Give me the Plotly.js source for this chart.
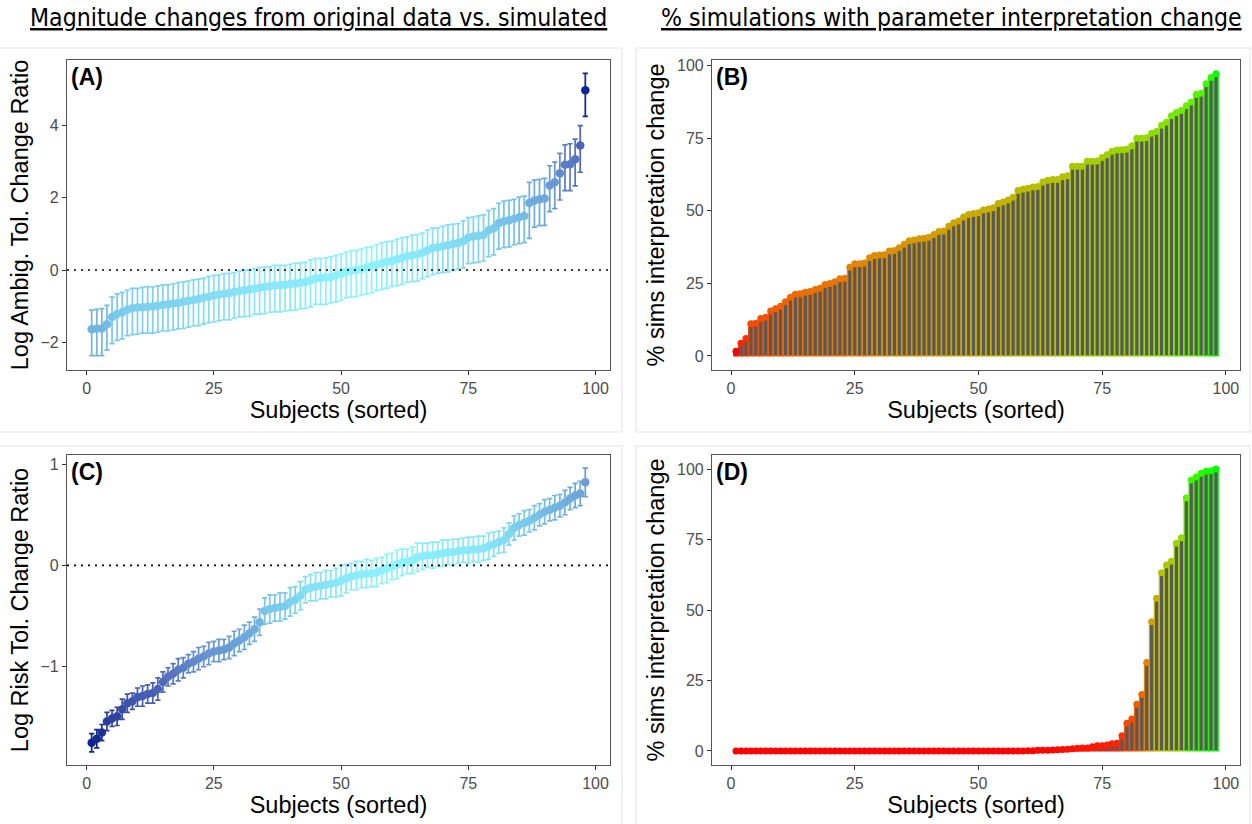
<!DOCTYPE html>
<html>
<head>
<meta charset="utf-8">
<script src="https://cdn.plot.ly/plotly-3.0.1.min.js"></script>
<style>html,body{margin:0;padding:0;background:#fff;}</style>
</head>
<body>
<div id="chart" style="width:1252px;height:824px;"></div>
<script>
// ---------------- data ----------------
const subjects = Array.from({length: 98}, (_, i) => i + 1);

const ambigRatio = [
 -1.64,-1.63,-1.62,-1.50,-1.30,-1.22,-1.17,-1.10,-1.06,-1.04,
 -1.03,-1.02,-1.01,-0.99,-0.97,-0.95,-0.93,-0.91,-0.88,-0.85,
 -0.83,-0.80,-0.77,-0.74,-0.70,-0.68,-0.66,-0.64,-0.61,-0.58,
 -0.56,-0.54,-0.51,-0.49,-0.47,-0.45,-0.43,-0.42,-0.41,-0.39,
 -0.37,-0.35,-0.33,-0.28,-0.23,-0.22,-0.21,-0.19,-0.15,-0.10,
 -0.05,-0.02,0.00,0.03,0.07,0.11,0.15,0.19,0.23,0.26,
 0.30,0.34,0.38,0.41,0.43,0.48,0.55,0.61,0.63,0.66,
 0.69,0.72,0.75,0.80,0.90,0.93,0.95,0.97,1.10,1.16,
 1.30,1.35,1.38,1.42,1.46,1.50,1.86,1.93,1.96,1.98,
 2.34,2.43,2.68,2.92,2.93,3.07,3.45,4.98
];
const ambigErrUp = [
 0.53,0.54,0.55,0.52,0.55,0.56,0.55,0.54,0.55,0.53,
 0.55,0.56,0.54,0.55,0.56,0.54,0.55,0.56,0.55,0.54,
 0.56,0.55,0.54,0.56,0.55,0.54,0.56,0.55,0.54,0.55,
 0.56,0.54,0.55,0.56,0.55,0.54,0.56,0.55,0.54,0.55,
 0.56,0.55,0.54,0.56,0.55,0.54,0.55,0.56,0.55,0.54,
 0.55,0.56,0.54,0.55,0.56,0.54,0.55,0.56,0.55,0.54,
 0.56,0.55,0.54,0.56,0.55,0.54,0.56,0.55,0.54,0.55,
 0.56,0.55,0.54,0.56,0.55,0.54,0.55,0.56,0.55,0.54,
 0.55,0.56,0.55,0.54,0.56,0.55,0.57,0.56,0.55,0.56,
 0.55,0.56,0.55,0.55,0.57,0.56,0.55,0.47
];
const ambigErrDown = [
 0.73,0.74,0.75,0.72,0.74,0.73,0.74,0.72,0.73,0.74,
 0.72,0.73,0.74,0.73,0.72,0.74,0.73,0.72,0.74,0.73,
 0.72,0.74,0.73,0.72,0.74,0.73,0.72,0.74,0.73,0.72,
 0.73,0.74,0.72,0.73,0.74,0.72,0.73,0.74,0.72,0.73,
 0.74,0.72,0.73,0.74,0.72,0.73,0.74,0.72,0.73,0.74,
 0.72,0.73,0.74,0.72,0.73,0.74,0.72,0.73,0.74,0.72,
 0.73,0.74,0.72,0.73,0.74,0.72,0.73,0.74,0.72,0.73,
 0.74,0.72,0.73,0.74,0.72,0.73,0.74,0.72,0.73,0.74,
 0.72,0.73,0.74,0.72,0.73,0.74,0.98,0.74,0.73,0.74,
 0.72,0.73,0.74,0.72,0.73,0.74,0.74,0.72
];

const riskRatio = [
 -1.75,-1.71,-1.65,-1.54,-1.51,-1.49,-1.42,-1.36,-1.34,-1.30,
 -1.29,-1.27,-1.26,-1.22,-1.15,-1.10,-1.07,-1.03,-1.01,-0.97,
 -0.95,-0.92,-0.90,-0.87,-0.85,-0.84,-0.83,-0.81,-0.77,-0.74,
 -0.71,-0.67,-0.63,-0.56,-0.45,-0.43,-0.42,-0.41,-0.40,-0.36,
 -0.34,-0.30,-0.24,-0.22,-0.21,-0.20,-0.19,-0.18,-0.17,-0.15,
 -0.13,-0.11,-0.10,-0.09,-0.08,-0.08,-0.07,-0.05,-0.03,-0.01,
 0.01,0.03,0.04,0.05,0.08,0.09,0.10,0.10,0.11,0.12,
 0.13,0.13,0.14,0.15,0.15,0.16,0.16,0.17,0.19,0.21,
 0.23,0.25,0.31,0.37,0.40,0.42,0.44,0.47,0.50,0.53,
 0.55,0.57,0.59,0.62,0.66,0.69,0.71,0.82
];
const riskErr = [
 0.09,0.09,0.08,0.09,0.08,0.09,0.10,0.09,0.08,0.09,
 0.10,0.09,0.10,0.11,0.10,0.09,0.10,0.11,0.10,0.09,
 0.10,0.11,0.10,0.11,0.10,0.11,0.10,0.11,0.12,0.11,
 0.12,0.11,0.12,0.13,0.13,0.14,0.13,0.14,0.13,0.14,
 0.13,0.14,0.13,0.13,0.14,0.13,0.14,0.13,0.14,0.15,
 0.14,0.13,0.14,0.13,0.14,0.13,0.14,0.13,0.14,0.13,
 0.14,0.13,0.12,0.13,0.14,0.13,0.12,0.13,0.12,0.13,
 0.12,0.13,0.12,0.12,0.13,0.12,0.13,0.12,0.13,0.12,
 0.11,0.12,0.11,0.12,0.11,0.12,0.11,0.12,0.11,0.12,
 0.11,0.12,0.11,0.12,0.11,0.12,0.12,0.14
];

const ambigPctChange = [
 1.6,4.4,6.0,11.1,11.2,12.9,13.3,15.5,16.2,17.1,
 18.6,20.2,21.2,21.4,21.9,22.2,22.9,23.3,24.6,24.9,
 25.5,26.6,26.7,30.5,31.7,31.7,32.0,33.8,34.6,34.7,
 34.8,36.1,36.3,37.2,38.4,39.6,39.9,40.3,40.5,40.8,
 41.8,42.8,43.0,44.6,45.8,46.4,47.8,48.7,49.0,49.3,
 50.2,50.6,51.0,52.5,53.0,53.7,54.6,56.9,57.4,57.7,
 58.1,58.3,59.9,60.5,60.7,60.7,61.7,62.0,65.3,65.3,
 65.3,67.0,67.0,67.1,68.3,69.2,70.4,70.9,71.0,71.1,
 72.3,74.9,74.9,75.1,76.6,77.2,79.4,80.4,82.7,83.8,
 84.5,86.1,87.4,90.0,90.4,93.7,95.8,97.1
];
const riskPctChange = [
 0,0,0,0,0,0,0,0,0,0,
 0,0,0,0,0,0,0,0,0,0,
 0,0,0,0,0,0,0,0,0,0,
 0,0,0,0,0,0,0,0,0,0,
 0,0,0,0,0,0,0,0,0,0,
 0,0,0,0,0,0,0,0,0,0.1,
 0.1,0.2,0.2,0.2,0.3,0.4,0.5,0.6,0.8,0.9,
 1.0,1.0,1.5,1.8,1.8,2.1,2.5,2.7,5.4,9.8,
 11.3,16.6,20.0,31.4,45.8,54.2,63.2,66.0,67.3,73.7,
 75.6,89.7,96.1,97.2,98.5,99.2,99.4,100
];

const xTicks = [0, 25, 50, 75, 100];
const titleLeft = 'Magnitude changes from original data vs. simulated';
const titleRight = '% simulations with parameter interpretation change';

// ---------------- colour helpers ----------------
function hexToRgb(h){h=h.replace('#','');return [parseInt(h.substr(0,2),16),parseInt(h.substr(2,2),16),parseInt(h.substr(4,2),16)];}
function rgbStr(c){return 'rgb('+c.map(v=>Math.max(0,Math.min(255,Math.round(v)))).join(',')+')';}
function interpStops(stops, t){
  t=Math.max(0,Math.min(1,t));
  for(let i=0;i<stops.length-1;i++){
    const [t0,c0]=stops[i],[t1,c1]=stops[i+1];
    if(t<=t1){const f=(t-t0)/(t1-t0);const a=hexToRgb(c0),b=hexToRgb(c1);return rgbStr(a.map((v,k)=>v+(b[k]-v)*f));}
  }
  return stops[stops.length-1][1];
}
const blueStops=[[0,'#8EF5FF'],[0.1,'#88E6F8'],[0.25,'#78C8EA'],[0.33,'#70B5E0'],[0.5,'#6795D2'],[0.6,'#5878C2'],[0.7,'#4A62B8'],[0.85,'#30449F'],[1,'#0C2590']];

// Lab interpolation red -> green (like ggplot gradient)
function srgbToLin(c){c/=255;return c<=0.04045?c/12.92:Math.pow((c+0.055)/1.055,2.4);}
function linToSrgb(c){c=Math.max(0,Math.min(1,c));return 255*(c<=0.0031308?12.92*c:1.055*Math.pow(c,1/2.4)-0.055);}
function rgbToLab(rgb){
  const [r,g,b]=rgb.map(srgbToLin);
  const X=(0.4124*r+0.3576*g+0.1805*b)/0.95047,Y=0.2126*r+0.7152*g+0.0722*b,Z=(0.0193*r+0.1192*g+0.9505*b)/1.08883;
  const f=v=>v>0.008856?Math.cbrt(v):7.787*v+16/116;
  const fx=f(X),fy=f(Y),fz=f(Z);
  return [116*fy-16,500*(fx-fy),200*(fy-fz)];
}
function labToRgb(lab){
  const fy=(lab[0]+16)/116,fx=fy+lab[1]/500,fz=fy-lab[2]/200;
  const inv=v=>v*v*v>0.008856?v*v*v:(v-16/116)/7.787;
  const X=inv(fx)*0.95047,Y=inv(fy),Z=inv(fz)*1.08883;
  const r=3.2406*X-1.5372*Y-0.4986*Z,g=-0.9689*X+1.8758*Y+0.0415*Z,b=0.0557*X-0.2040*Y+1.0570*Z;
  return [linToSrgb(r),linToSrgb(g),linToSrgb(b)];
}
const labLow=rgbToLab([255,0,0]),labHigh=rgbToLab([0,255,0]);
function redGreen(t){t=Math.max(0,Math.min(1,t));return rgbStr(labToRgb(labLow.map((v,k)=>v+(labHigh[k]-v)*t)));}

// ---------------- traces ----------------
const traces=[];
function errPanel(xa,ya,vals,up,down){
  const maxAbs=Math.max(...vals.map(Math.abs));
  const cols=vals.map(v=>interpStops(blueStops,Math.abs(v)/maxAbs));
  vals.forEach((v,i)=>{
    traces.push({type:'scatter',mode:'markers',x:[subjects[i]],y:[v],xaxis:xa,yaxis:ya,
      marker:{size:1,opacity:0},
      error_y:{type:'data',symmetric:false,array:[up[i]],arrayminus:[down[i]],color:cols[i],thickness:1.7,width:2.6},
      hoverinfo:'skip',showlegend:false});
  });
  traces.push({type:'scatter',mode:'markers',x:subjects,y:vals,xaxis:xa,yaxis:ya,
    marker:{size:8.5,color:cols,line:{width:0}},showlegend:false});
}
function barPanel(xa,ya,vals){
  const mn=Math.min(...vals),mx=Math.max(...vals);
  const cols=vals.map(v=>redGreen((v-mn)/(mx-mn)));
  traces.push({type:'bar',x:subjects,y:vals,xaxis:xa,yaxis:ya,width:0.9,
    marker:{color:'#595959',line:{color:cols,width:1.2}},showlegend:false});
  traces.push({type:'scatter',mode:'markers',x:subjects,y:vals,xaxis:xa,yaxis:ya,
    marker:{size:7,color:cols,line:{width:0}},showlegend:false});
}
errPanel('x','y',ambigRatio,ambigErrUp,ambigErrDown);
barPanel('x2','y2',ambigPctChange);
errPanel('x3','y3',riskRatio,riskErr,riskErr);
barPanel('x4','y4',riskPctChange);

// ---------------- layout ----------------
const FONT='Liberation Sans, Arial, sans-serif';
const NARROW='Liberation Sans Narrow, Arial Narrow, DejaVu Sans Condensed, sans-serif';
function xAx(domain,anchor){
  return {domain:domain,anchor:anchor,range:[-3.85,102.85],tickvals:xTicks,ticks:'outside',ticklen:4,tickwidth:1,tickcolor:'#333',
    tickfont:{family:FONT,size:16,color:'#4D4D4D'},showline:true,mirror:true,linecolor:'#555',linewidth:1.1,
    showgrid:false,zeroline:false,
    title:{text:'Subjects (sorted)',font:{family:FONT,size:23.5,color:'#000'},standoff:2}};
}
function yAx(domain,anchor,range,tickvals,title){
  return {domain:domain,anchor:anchor,range:range,tickvals:tickvals,ticks:'outside',ticklen:4,tickwidth:1,tickcolor:'#333',
    tickfont:{family:FONT,size:16,color:'#4D4D4D'},showline:true,mirror:true,linecolor:'#555',linewidth:1.1,
    showgrid:false,zeroline:false,
    title:{text:title,font:{family:FONT,size:23.5,color:'#000'},standoff:5}};
}
const dxL=[67/1252,610/1252],dxR=[712/1252,1240/1252];
const dyT=[1-370/824,1-60/824],dyB=[1-765/824,1-455/824];

function panelLabel(txt,xr,yr){
  return {text:'<b>'+txt+'</b>',xref:xr+' domain',yref:yr+' domain',x:0.004,y:0.995,xanchor:'left',yanchor:'top',
    showarrow:false,font:{family:FONT,size:23,color:'#000'}};
}
const frame='#E3E3E3';
const layout={
  width:1252,height:824,margin:{l:0,r:0,t:0,b:0},paper_bgcolor:'#fff',plot_bgcolor:'#fff',showlegend:false,
  xaxis:xAx(dxL,'y'),yaxis:yAx(dyT,'x',[-2.77,5.82],[-2,0,2,4],'Log Ambig. Tol. Change Ratio'),
  xaxis2:xAx(dxR,'y2'),yaxis2:yAx(dyT,'x2',[-4.85,101.85],[0,25,50,75,100],'% sims interpretation change'),
  xaxis3:xAx(dxL,'y3'),yaxis3:yAx(dyB,'x3',[-1.97,1.09],[-1,0,1],'Log Risk Tol. Change Ratio'),
  xaxis4:xAx(dxR,'y4'),yaxis4:yAx(dyB,'x4',[-5,105],[0,25,50,75,100],'% sims interpretation change'),
  annotations:[
    {text:titleLeft,xref:'paper',yref:'paper',x:318/1252,y:1-18/824,xanchor:'center',yanchor:'middle',showarrow:false,
      font:{family:NARROW,size:24.6,color:'#000',lineposition:'under'}},
    {text:titleRight,xref:'paper',yref:'paper',x:951/1252,y:1-18/824,xanchor:'center',yanchor:'middle',showarrow:false,
      font:{family:NARROW,size:24.6,color:'#000',lineposition:'under'}},
    panelLabel('(A)','x','y'),panelLabel('(B)','x2','y2'),panelLabel('(C)','x3','y3'),panelLabel('(D)','x4','y4')
  ],
  shapes:[
    {type:'line',xref:'x domain',yref:'y',x0:0,x1:1,y0:0,y1:0,line:{color:'#000',width:1.6,dash:'2px,5px'}},
    {type:'line',xref:'x3 domain',yref:'y3',x0:0,x1:1,y0:0,y1:0,line:{color:'#000',width:1.6,dash:'2px,5px'}},
    {type:'rect',xref:'paper',yref:'paper',x0:-0.01,x1:622/1252,y0:1-432/824,y1:1-48/824,line:{color:frame,width:1},layer:'below'},
    {type:'rect',xref:'paper',yref:'paper',x0:636/1252,x1:1250/1252,y0:1-432/824,y1:1-48/824,line:{color:frame,width:1},layer:'below'},
    {type:'rect',xref:'paper',yref:'paper',x0:-0.01,x1:622/1252,y0:-0.01,y1:1-446/824,line:{color:frame,width:1},layer:'below'},
    {type:'rect',xref:'paper',yref:'paper',x0:636/1252,x1:1250/1252,y0:-0.01,y1:1-446/824,line:{color:frame,width:1},layer:'below'}
  ]
};
Plotly.newPlot('chart',traces,layout,{displayModeBar:false,staticPlot:true});
</script>
</body>
</html>
